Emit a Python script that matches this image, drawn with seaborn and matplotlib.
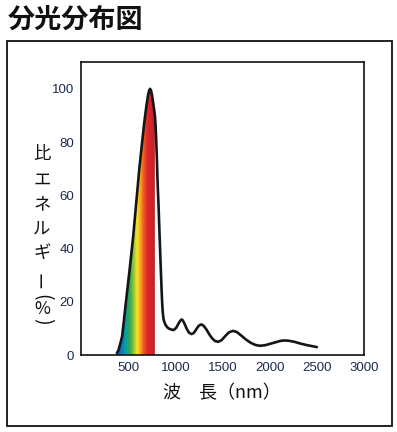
import matplotlib
matplotlib.use("Agg")
import matplotlib.pyplot as plt
from matplotlib.colors import LinearSegmentedColormap
from matplotlib.patches import Rectangle
import numpy as np
import seaborn as sns

# ─── Data ────────────────────────────────────────────────────────────────────
wavelength = [380, 387, 395, 405, 420, 436, 455, 475, 515, 553, 585, 617, 645,
              665, 680, 695, 710, 722, 732, 742, 752, 762, 772, 783, 790, 797,
              803, 809, 815, 821, 834, 846, 856, 862, 868, 874, 880, 895, 915,
              940, 977, 990, 1010, 1030, 1050, 1066, 1080, 1100, 1120, 1145,
              1172, 1195, 1220, 1245, 1265, 1278, 1300, 1330, 1360, 1390, 1420,
              1454, 1490, 1530, 1570, 1613, 1650, 1700, 1750, 1800, 1850, 1896,
              1950, 2000, 2060, 2110, 2150, 2200, 2260, 2330, 2400, 2460, 2500]
energy = [0.8, 1.2, 1.6, 2.8, 4.8, 7.0, 13.0, 19.5, 32.0, 44.5, 57.0, 69.5, 79.0,
          85.5, 90.0, 94.0, 97.5, 99.3, 100.0, 99.4, 97.8, 95.5, 93.0, 90.0, 86.5, 81.0,
          75.0, 68.0, 62.0, 57.0, 44.0, 32.0, 23.0, 18.5, 15.5, 13.8, 12.8, 11.4, 10.4,
          9.8, 9.4, 9.6, 10.3, 11.6, 12.8, 13.4, 13.0, 11.6, 9.9, 8.4,
          7.9, 8.3, 9.6, 10.9, 11.4, 11.5, 11.0, 9.6, 7.8, 6.3, 5.3,
          5.0, 5.6, 7.2, 8.6, 9.1, 8.7, 7.3, 5.8, 4.6, 3.8, 3.5,
          3.7, 4.2, 4.8, 5.3, 5.5, 5.4, 5.0, 4.3, 3.7, 3.3, 3.0]

spectrum_end = 783          # colour band stops here (nm)
x_ticks = [500, 1000, 1500, 2000, 2500, 3000]
y_ticks = [0, 20, 40, 60, 80, 100]

# colour stops of the visible band (nm, colour)
band_nm = [380, 430, 464, 517, 560, 588, 624, 655, 695, 761, 783]
band_col = ["#1f4e9a", "#0a7cc0", "#00a0a8", "#3aaa48", "#a6cc3a", "#fde428",
            "#f7a21e", "#ee5a24", "#e0262a", "#c4232c", "#a8252f"]

# vertical y-label: (char, pixel y in the figure, rotation, size)
ylabel_chars = [("比", 154, 0, 12.5), ("エ", 180, 0, 12.5), ("ネ", 204, 0, 12.5),
                ("ル", 229, 0, 12.5), ("ギ", 253, 0, 12.5), ("ー", 279, 90, 12.5),
                ("(", 297, -90, 14), ("%", 309, 0, 12.5), (")", 321, -90, 14)]

# ─── Figure ──────────────────────────────────────────────────────────────────
sns.set_style("white")
plt.rcParams["font.family"] = ["Liberation Sans", "DejaVu Sans"]
cjk = ["Noto Sans CJK JP", "DejaVu Sans"]
ink = "#1b2a4e"
W, H = 397, 432

fig = plt.figure(figsize=(W / 100, H / 100), dpi=100)
ax = fig.add_axes([0.204, 0.178, 0.713, 0.678])

# outer frame
fig.patches.append(Rectangle((0.0176, 0.0139), 0.970, 0.891, transform=fig.transFigure,
                             fill=False, lw=1.3, ec="#111111"))

# colour band clipped under the curve
wl = np.array(wavelength)
en = np.array(energy)
mask = wl <= spectrum_end
poly = ax.fill_between(wl[mask], en[mask], 0, color="none", lw=0)
pos = [(n - band_nm[0]) / (band_nm[-1] - band_nm[0]) for n in band_nm]
cmap = LinearSegmentedColormap.from_list("band", list(zip(pos, band_col)))
grad = np.linspace(0, 1, 256).reshape(1, -1)
img = ax.imshow(grad, cmap=cmap, aspect="auto", origin="lower",
                extent=(band_nm[0], band_nm[-1], 0, 100), zorder=1)
img.set_clip_path(poly.get_paths()[0], transform=ax.transData)

sns.lineplot(x=wavelength, y=energy, color="#151515", lw=1.9, ax=ax, zorder=3)

ax.set_xlim(0, 3000)
ax.set_ylim(0, 110)
ax.set_xticks(x_ticks)
ax.set_yticks(y_ticks)
ax.tick_params(direction="in", length=5, width=1, color="#111111",
               labelsize=9.5, labelcolor=ink, pad=5)
for s in ax.spines.values():
    s.set_linewidth(1.2)
    s.set_color("#111111")

# titles / labels
fig.text(0.02, 0.955, "分光分布図", family=cjk, fontsize=19.5, fontweight="bold",
         ha="left", va="center", color="#111111")
for ch, yp, rot, fs in ylabel_chars:
    fig.text(42 / W, 1 - yp / H, ch, family=cjk, fontsize=fs, rotation=rot,
             ha="center", va="center", color="#111111")
fig.text(0.56, 0.09, "波　長（nm）", family=cjk, fontsize=13, ha="center",
         va="center", color="#111111")

plt.savefig("out.png", dpi=100)
plt.close(fig)
